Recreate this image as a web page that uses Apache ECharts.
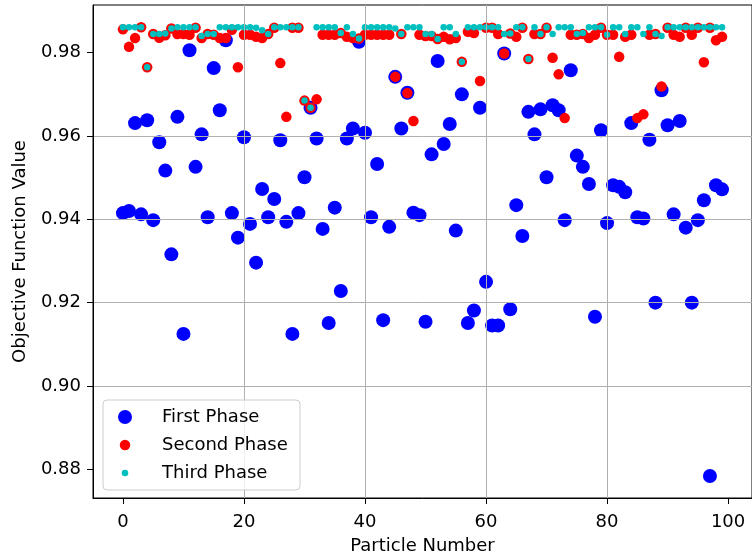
<!DOCTYPE html>
<html>
<head>
<meta charset="utf-8">
<script src="https://cdn.jsdelivr.net/npm/echarts@6/dist/echarts.min.js"></script>
<style>
  html, body { margin: 0; padding: 0; background: #fff; }
  #chart { width: 752px; height: 560px; }
</style>
</head>
<body>
<div id="chart"></div>
<script>
// objective value of each particle after every phase (index = particle number)
const firstPhase = [
  0.9415, 0.942, 0.9631, 0.9412, 0.9638, 0.9398, 0.9585, 0.9517, 0.9316, 0.9646,
  0.9125, 0.9806, 0.9526, 0.9604, 0.9405, 0.9763, 0.9662, 0.983, 0.9415, 0.9356,
  0.9597, 0.9389, 0.9296, 0.9473, 0.9405, 0.9449, 0.959, 0.9394, 0.9125, 0.9415,
  0.9501, 0.9668, 0.9594, 0.9377, 0.9151, 0.9428, 0.9228, 0.9594, 0.9618, 0.9826,
  0.9608, 0.9405, 0.9533, 0.9158, 0.9382, 0.9742, 0.9618, 0.9704, 0.9416, 0.941,
  0.9154, 0.9556, 0.978, 0.9581, 0.9629, 0.9373, 0.97, 0.9151, 0.9181, 0.9668,
  0.925, 0.9145, 0.9145, 0.9798, 0.9184, 0.9434, 0.936, 0.9658, 0.9604, 0.9664,
  0.9501, 0.9674, 0.9662, 0.9398, 0.9758, 0.9553, 0.9526, 0.9485, 0.9166, 0.9614,
  0.9391, 0.9482, 0.9478, 0.9465, 0.9631, 0.9405, 0.9402, 0.9591, 0.92, 0.971,
  0.9626, 0.9412, 0.9636, 0.938, 0.92, 0.9398, 0.9446, 0.8784, 0.9482, 0.9472
];

const secondPhase = [
  0.9856, 0.9814, 0.9835, 0.9861, 0.9765, 0.9845, 0.9836, 0.9842, 0.9858, 0.9845,
  0.9845, 0.9843, 0.986, 0.9835, 0.9845, 0.9843, 0.9835, 0.9835, 0.9855, 0.9765,
  0.9843, 0.9843, 0.9838, 0.9835, 0.9845, 0.986, 0.9775, 0.9646, 0.986, 0.986,
  0.9685, 0.9668, 0.9688, 0.9843, 0.9843, 0.9843, 0.9847, 0.9838, 0.9835, 0.9834,
  0.9843, 0.9843, 0.9843, 0.9843, 0.9843, 0.9742, 0.9845, 0.9703, 0.9636, 0.9843,
  0.984, 0.984, 0.9833, 0.9838, 0.9832, 0.9835, 0.9778, 0.985, 0.9847, 0.9732,
  0.986, 0.986, 0.9845, 0.9798, 0.9846, 0.9838, 0.986, 0.9785, 0.9845, 0.9845,
  0.986, 0.9788, 0.9748, 0.9643, 0.9843, 0.9843, 0.9845, 0.9835, 0.9843, 0.986,
  0.9843, 0.9843, 0.979, 0.9838, 0.9843, 0.9643, 0.9652, 0.9843, 0.9845, 0.9719,
  0.986, 0.9843, 0.9838, 0.986, 0.9843, 0.986, 0.9777, 0.986, 0.983, 0.9838
];

const thirdPhase = [
  0.9861, 0.9861, 0.9861, 0.9861, 0.9765, 0.9845, 0.9845, 0.9846, 0.9858, 0.9861,
  0.9861, 0.9861, 0.9861, 0.984, 0.9845, 0.9845, 0.9861, 0.9861, 0.9861, 0.9861,
  0.9861, 0.9861, 0.986, 0.9854, 0.9845, 0.9861, 0.9861, 0.9861, 0.9861, 0.9861,
  0.9685, 0.9668, 0.9861, 0.9861, 0.9861, 0.9861, 0.9847, 0.9861, 0.9845, 0.9834,
  0.9861, 0.9861, 0.9861, 0.9861, 0.9861, 0.9858, 0.9845, 0.9861, 0.9861, 0.9861,
  0.9845, 0.9845, 0.9833, 0.9861, 0.9861, 0.9845, 0.9778, 0.9861, 0.9861, 0.9861,
  0.9861, 0.9861, 0.9861, 0.9845, 0.9846, 0.9861, 0.9861, 0.9785, 0.9861, 0.9845,
  0.9861, 0.9845, 0.9861, 0.9861, 0.9861, 0.9845, 0.9847, 0.9861, 0.9861, 0.9861,
  0.9843, 0.9861, 0.9861, 0.9845, 0.9861, 0.9861, 0.9845, 0.9861, 0.9845, 0.984,
  0.9861, 0.9861, 0.9861, 0.9861, 0.9861, 0.9861, 0.9861, 0.9861, 0.9861, 0.9861
];

const xTicks = [0, 20, 40, 60, 80, 100];
const yTicks = [0.88, 0.90, 0.92, 0.94, 0.96, 0.98];

const FONT = "DejaVu Sans";

// pair every value with its particle number
function toPoints(values) {
  let points = [];
  for (let i = 0; i < values.length; i++) {
    points.push([i, values[i]]);
  }
  return points;
}

// one legend per phase so every marker keeps its own size;
// markers centred at x=125, labels start at x=162
function legendFor(name, size, centerY) {
  return {
    data: [name],
    orient: "vertical",
    left: 125 - size / 2,
    top: centerY - 10,
    padding: 0,
    itemWidth: size,
    itemHeight: size,
    selectedMode: false,
    z: 60,
    textStyle: {
      color: "#000",
      fontFamily: FONT,
      fontSize: 18,
      lineHeight: 20,
      padding: [0, 0, 0, 32 - size / 2]
    }
  };
}

let option = {
  animation: false,
  backgroundColor: "#fff",
  grid: {
    left: 93,
    top: 5,
    width: 662,
    height: 493,
    show: true,
    borderColor: "#000",
    borderWidth: 1,
    backgroundColor: "transparent"
  },
  xAxis: {
    type: "value",
    min: -4.95,
    max: 103.95,
    z: 5,
    name: "Particle Number",
    nameLocation: "middle",
    nameGap: 39,
    nameTextStyle: { color: "#000", fontFamily: FONT, fontSize: 18 },
    axisLine: { onZero: false, lineStyle: { color: "#000", width: 1 } },
    axisTick: { show: true, length: 6, customValues: xTicks, lineStyle: { color: "#000", width: 1 } },
    axisLabel: { customValues: xTicks, color: "#000", fontFamily: FONT, fontSize: 18, margin: 15 },
    splitLine: {
      show: true,
      showMinLine: false,
      showMaxLine: false,
      lineStyle: { color: "#b0b0b0", width: 1 }
    }
  },
  yAxis: {
    type: "value",
    min: 0.87311,
    max: 0.99145,
    z: 5,
    name: "Objective Function Value",
    nameLocation: "middle",
    nameGap: 64,
    nameTextStyle: { color: "#000", fontFamily: FONT, fontSize: 18 },
    axisLine: { show: true, onZero: false, lineStyle: { color: "#000", width: 1 } },
    axisTick: { show: true, length: 6, customValues: yTicks, lineStyle: { color: "#000", width: 1 } },
    axisLabel: {
      customValues: yTicks,
      color: "#000",
      fontFamily: FONT,
      fontSize: 18,
      margin: 12,
      formatter: function(v) {
        return v.toFixed(2);
      }
    },
    splitLine: {
      show: true,
      showMinLine: false,
      showMaxLine: false,
      lineStyle: { color: "#b0b0b0", width: 1 }
    }
  },
  legend: [
    legendFor("First Phase", 14, 417),
    legendFor("Second Phase", 10.5, 445),
    legendFor("Third Phase", 6.5, 473)
  ],
  graphic: [
    {
      type: "rect",
      z: 50,
      shape: { x: 103, y: 400, width: 197, height: 90, r: 4 },
      style: { fill: "rgba(255,255,255,0.8)", stroke: "#cccccc", lineWidth: 1 }
    }
  ],
  series: [
    {
      name: "First Phase",
      type: "scatter",
      data: toPoints(firstPhase),
      symbolSize: 14,
      itemStyle: { color: "#0000ff", opacity: 1 },
      silent: true
    },
    {
      name: "Second Phase",
      type: "scatter",
      data: toPoints(secondPhase),
      symbolSize: 10.5,
      itemStyle: { color: "#ff0000", opacity: 1 },
      silent: true
    },
    {
      name: "Third Phase",
      type: "scatter",
      data: toPoints(thirdPhase),
      symbolSize: 6.5,
      itemStyle: { color: "#00bfbf", opacity: 1 },
      silent: true
    }
  ]
};

const chart = echarts.init(document.getElementById("chart"));
chart.setOption(option);
</script>
</body>
</html>
